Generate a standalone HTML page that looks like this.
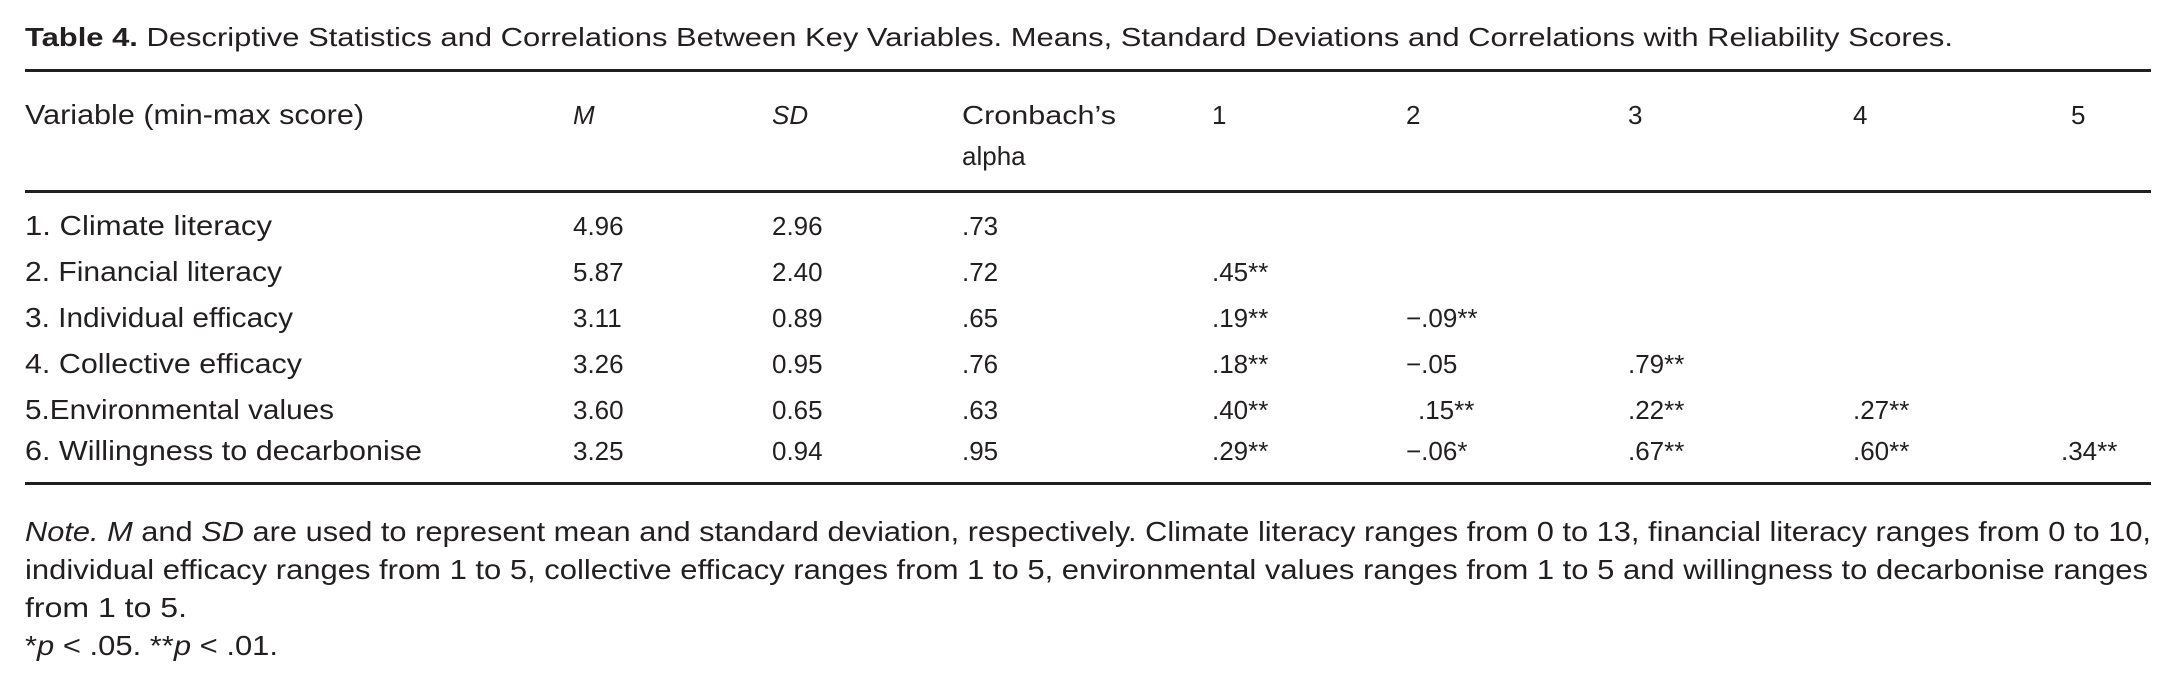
<!DOCTYPE html>
<html><head><meta charset="utf-8"><style>
html,body{margin:0;padding:0;background:#fff;}
svg{display:block;}
text{font-family:"Liberation Sans",sans-serif;fill:#231f20;font-size:26px;}
.l{font-size:28px;}
</style></head><body>
<svg width="2176" height="690" viewBox="0 0 2176 690">
<text x="25" y="46" font-size="26" textLength="1928" lengthAdjust="spacingAndGlyphs"><tspan font-weight="bold">Table 4.</tspan>  Descriptive Statistics and Correlations Between Key Variables. Means, Standard Deviations and Correlations with Reliability Scores.</text>
<rect x="25" y="69" width="2126" height="3" fill="#231f20"/>
<text class="l" x="25" y="124" textLength="339" lengthAdjust="spacingAndGlyphs">Variable (min-max score)</text>
<text x="573" y="124" font-style="italic">M</text>
<text x="772" y="124" font-style="italic">SD</text>
<text x="962" y="124" textLength="154" lengthAdjust="spacingAndGlyphs">Cronbach’s</text>
<text x="962" y="165">alpha</text>
<text x="1212" y="124">1</text>
<text x="1406" y="124">2</text>
<text x="1628" y="124">3</text>
<text x="1853" y="124">4</text>
<text x="2071" y="124">5</text>
<rect x="25" y="190" width="2126" height="3" fill="#231f20"/>
<g>
<text class="l" x="25" y="235" textLength="247" lengthAdjust="spacingAndGlyphs">1. Climate literacy</text>
<text x="573" y="235">4.96</text><text x="772" y="235">2.96</text><text x="962" y="235">.73</text>

<text class="l" x="25" y="281" textLength="257" lengthAdjust="spacingAndGlyphs">2. Financial literacy</text>
<text x="573" y="281">5.87</text><text x="772" y="281">2.40</text><text x="962" y="281">.72</text>
<text x="1212" y="281">.45**</text>

<text class="l" x="25" y="327" textLength="268" lengthAdjust="spacingAndGlyphs">3. Individual efficacy</text>
<text x="573" y="327">3.11</text><text x="772" y="327">0.89</text><text x="962" y="327">.65</text>
<text x="1212" y="327">.19**</text><text x="1406" y="327">−.09**</text>

<text class="l" x="25" y="373" textLength="277" lengthAdjust="spacingAndGlyphs">4. Collective efficacy</text>
<text x="573" y="373">3.26</text><text x="772" y="373">0.95</text><text x="962" y="373">.76</text>
<text x="1212" y="373">.18**</text><text x="1406" y="373">−.05</text><text x="1628" y="373">.79**</text>

<text class="l" x="25" y="419" textLength="309" lengthAdjust="spacingAndGlyphs">5.Environmental values</text>
<text x="573" y="419">3.60</text><text x="772" y="419">0.65</text><text x="962" y="419">.63</text>
<text x="1212" y="419">.40**</text><text x="1418" y="419">.15**</text><text x="1628" y="419">.22**</text><text x="1853" y="419">.27**</text>

<text class="l" x="25" y="460" textLength="397" lengthAdjust="spacingAndGlyphs">6. Willingness to decarbonise</text>
<text x="573" y="460">3.25</text><text x="772" y="460">0.94</text><text x="962" y="460">.95</text>
<text x="1212" y="460">.29**</text><text x="1406" y="460">−.06*</text><text x="1628" y="460">.67**</text><text x="1853" y="460">.60**</text><text x="2061" y="460">.34**</text>
</g>
<rect x="25" y="482" width="2126" height="3" fill="#231f20"/>
<text class="l" x="25" y="541" textLength="2126" lengthAdjust="spacingAndGlyphs"><tspan font-style="italic">Note. M</tspan> and <tspan font-style="italic">SD</tspan> are used to represent mean and standard deviation, respectively. Climate literacy ranges from 0 to 13, financial literacy ranges from 0 to 10,</text>
<text class="l" x="25" y="579" textLength="2123" lengthAdjust="spacingAndGlyphs">individual efficacy ranges from 1 to 5, collective efficacy ranges from 1 to 5, environmental values ranges from 1 to 5 and willingness to decarbonise ranges</text>
<text class="l" x="25" y="617" textLength="162" lengthAdjust="spacingAndGlyphs">from 1 to 5.</text>
<text class="l" x="25" y="655" textLength="253" lengthAdjust="spacingAndGlyphs">*<tspan font-style="italic">p</tspan> &lt; .05. **<tspan font-style="italic">p</tspan> &lt; .01.</text>
</svg>
</body></html>
